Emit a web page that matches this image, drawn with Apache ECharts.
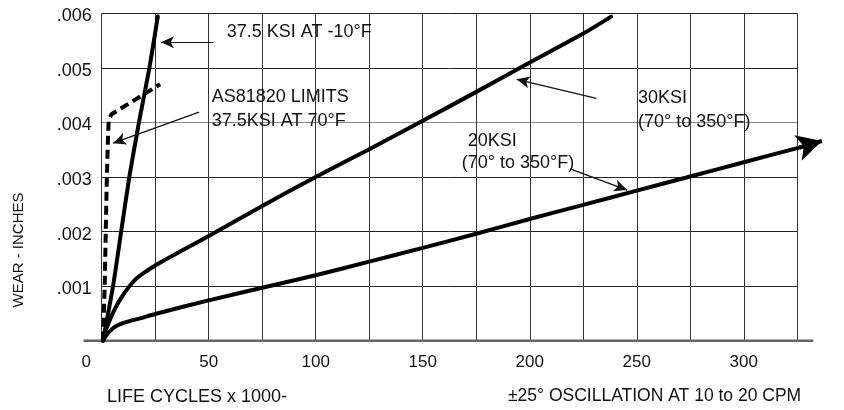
<!DOCTYPE html>
<html><head><meta charset="utf-8">
<script src="https://cdn.jsdelivr.net/npm/echarts@6/dist/echarts.min.js"></script>
<style>html,body{margin:0;padding:0;background:#fff}#c{width:844px;height:410px}</style>
</head><body><div id="c"></div>
<script>
// ---- data ----
const xTickValues = [0, 50, 100, 150, 200, 250, 300];
const xTickLabels = ['0', '50', '100', '150', '200', '250', '300'];
const yTickLabels = ['', '.001', '.002', '.003', '.004', '.005', '.006'];

const ksi375Cold = [[0.6,0],[5.3,0.001],[9.1,0.002],[12.9,0.003],[17.4,0.004],[22.3,0.005],[26.2,0.00594]];
const as81820Limits = [[0.6,0],[1.4,0.001],[1.9,0.002],[2.4,0.003],[3.0,0.0038],[3.3,0.00405],[4.6,0.00415],[27.3,0.0047]];
const ksi30 = [[0.6,0],[2,0.0002],[4,0.0004],[6,0.00057],[9,0.00078],[13,0.001],[16,0.00113],[20,0.00125],[25,0.00138],[50,0.00192],[75,0.00247],[100,0.003],[125,0.00351],[150,0.00403],[175,0.00456],[200,0.0051],[225,0.00563],[238,0.00594]];
const ksi20 = [[0.6,0],[3,0.00014],[6,0.00025],[9,0.00031],[13,0.00036],[18,0.00041],[25,0.00049],[50,0.00074],[75,0.00097],[100,0.0012],[125,0.00145],[150,0.0017],[175,0.00196],[200,0.00223],[225,0.00249],[250,0.00275],[275,0.00301],[300,0.00327],[325,0.00353],[329,0.00357]];
const ksi20ArrowEnd = [[326,0.00354],[336.5,0.00366]];

// annotation leader arrows: [from, to]
const leaders = [
  [[52.3,0.00547],[27.7,0.00547]],
  [[45.5,0.00419],[5.3,0.00362]],
  [[231.1,0.00444],[193.9,0.00479]],
  [[218.9,0.00315],[245.5,0.00276]]
];
const xAxisLineRange = [-8.5, 332.5]; // axis line runs a little past both grid edges
const dataXMax = 345;                 // room for the arrow head

const annotations = [
  {text:'37.5 KSI AT -10°F', x:226.7, y:31.7},
  {text:'AS81820 LIMITS', x:211.7, y:97.5},
  {text:'37.5KSI AT 70°F', x:211.7, y:120.8},
  {text:'30KSI', x:638, y:98.3},
  {text:'(70° to 350°F)', x:638, y:121.7},
  {text:'20KSI', x:467.7, y:140.7},
  {text:'(70° to 350°F)', x:461.7, y:163.3}
];

const FONT = '"Liberation Sans", Arial, Helvetica, sans-serif';
const chart = echarts.init(document.getElementById('c'), null, {renderer:'canvas'});

const gridColors = ['#222','#222','#222','#222','#888','#222','#222'];
const G = {left: 101.7, top: 13.3, bottom: 69.3, right: 46.7};
const plotW = 844 - G.left - G.right;
const dataW = plotW * dataXMax / 325;

const lineBase = {type: 'line', xAxisIndex: 1, yAxisIndex: 1, showSymbol: false, symbol: 'none', z: 5};

const option = {
  animation: false,
  backgroundColor: '#fff',
  grid: [
    {left: G.left, right: G.right, top: G.top, bottom: G.bottom},
    {left: G.left, width: dataW, top: G.top, bottom: G.bottom}
  ],
  xAxis: [{
    gridIndex: 0, type: 'value', min: 0, max: 325, interval: 25,
    axisLine: {show: false}, axisTick: {show: false},
    splitLine: {show: true, lineStyle: {color: '#333', width: 1}},
    axisLabel: {
      margin: 13, fontSize: 17, color: '#111', fontFamily: FONT,
      formatter: function (v) {
        const i = xTickValues.indexOf(Math.round(v));
        if (i < 0) return '';
        if (i === 0) return '{z|' + xTickLabels[0] + '}';
        return xTickLabels[i];
      },
      rich: {z: {fontSize: 17, color: '#111', fontFamily: FONT, padding: [0, 31, 0, 0]}}
    }
  }, {
    gridIndex: 1, type: 'value', min: 0, max: dataXMax, show: false
  }],
  yAxis: [{
    gridIndex: 0, type: 'value', min: 0, max: 0.006, interval: 0.001,
    axisLine: {show: false}, axisTick: {show: false},
    splitLine: {show: true, lineStyle: {color: gridColors, width: 1}},
    axisLabel: {
      margin: 10, fontSize: 18, color: '#111', fontFamily: FONT,
      formatter: function (v) {
        const s = yTickLabels[Math.round(v * 1000)] || '';
        return s ? '{a|' + s + '}' : '';
      },
      rich: {a: {fontSize: 18, color: '#111', fontFamily: FONT, padding: [6, 0, 0, 0]}}
    }
  }, {
    gridIndex: 1, type: 'value', min: 0, max: 0.006, show: false
  }],
  series: [
    Object.assign({}, lineBase, {
      name: 'leaders', data: [], clip: false, silent: true, z: 6,
      markLine: {
        silent: true, symbol: ['none', 'arrow'], symbolSize: [9, 13], label: {show: false},
        lineStyle: {type: 'solid', color: '#111', width: 1.2},
        emphasis: {disabled: true},
        data: leaders.map(l => [{coord: l[0]}, {coord: l[1]}])
      }
    }),
    Object.assign({}, lineBase, {
      name: '37.5 KSI AT -10°F', data: ksi375Cold,
      smooth: 0.2, lineStyle: {color: '#000', width: 4, cap: 'round', join: 'round'}
    }),
    Object.assign({}, lineBase, {
      name: 'AS81820 LIMITS 37.5KSI AT 70°F', data: as81820Limits,
      lineStyle: {color: '#000', width: 4, type: [9, 5], cap: 'butt'}
    }),
    Object.assign({}, lineBase, {
      name: '30KSI', data: ksi30,
      smooth: 0.3, lineStyle: {color: '#000', width: 4, cap: 'round', join: 'round'}
    }),
    Object.assign({}, lineBase, {
      name: '20KSI', data: ksi20, clip: false,
      smooth: 0.3, lineStyle: {color: '#000', width: 4, cap: 'round', join: 'round'},
      markLine: {
        silent: true, symbol: ['none', 'arrow'], symbolSize: [20, 25], label: {show: false},
        lineStyle: {type: 'solid', color: '#000', width: 4},
        emphasis: {disabled: true},
        data: [[{coord: ksi20ArrowEnd[0]}, {coord: ksi20ArrowEnd[1]}]]
      }
    })
  ]
};
chart.setOption(option);

// graphics: annotation texts, axis titles and the x axis line (placed via the axis scale)
const pA = chart.convertToPixel({xAxisIndex: 1, yAxisIndex: 1}, [xAxisLineRange[0], 0]);
const pB = chart.convertToPixel({xAxisIndex: 1, yAxisIndex: 1}, [xAxisLineRange[1], 0]);
const graphics = annotations.map(a => ({
  type: 'text', x: a.x, y: a.y, z: 100,
  style: {text: a.text, fontSize: 18, fontFamily: FONT, fill: '#111', align: 'left', verticalAlign: 'middle'}
})).concat([
  {type: 'text', x: 19, y: 250, rotation: Math.PI / 2, z: 100,
   style: {text: 'WEAR - INCHES', fontSize: 15, fontFamily: FONT, fill: '#111', align: 'center', verticalAlign: 'middle'}},
  {type: 'text', x: 107, y: 397, z: 100,
   style: {text: 'LIFE CYCLES x 1000-', fontSize: 18, fontFamily: FONT, fill: '#111', align: 'left', verticalAlign: 'middle'}},
  {type: 'text', x: 508, y: 396, z: 100,
   style: {text: '±25° OSCILLATION AT 10 to 20 CPM', fontSize: 17.5, fontFamily: FONT, fill: '#111', align: 'left', verticalAlign: 'middle'}},
  {type: 'line', z: 4, shape: {x1: pA[0], y1: pA[1], x2: pB[0], y2: pB[1]},
   style: {stroke: '#666', lineWidth: 2.5}}
]);
chart.setOption({graphic: graphics});
</script></body></html>
